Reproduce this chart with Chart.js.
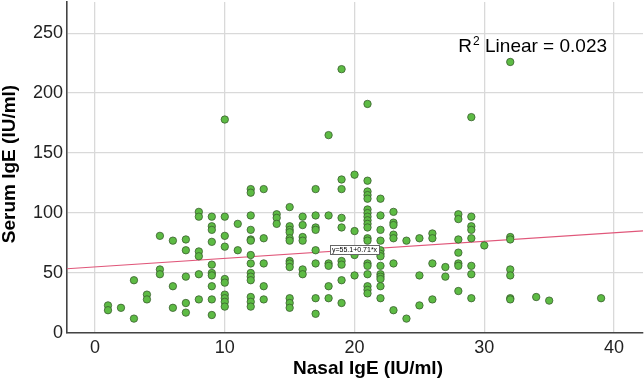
<!DOCTYPE html>
<html lang="en">
<head>
<meta charset="UTF-8">
<title>Nasal IgE vs Serum IgE</title>
<style>
  html, body { margin: 0; padding: 0; background: #fff; }
  #chart { display: block; }
</style>
</head>
<body>
<canvas id="chart" width="644" height="384"></canvas>
<script src="https://cdn.jsdelivr.net/npm/chart.js"></script>
<script>
// one entry per subject, nasalIgE[i] pairs with serumIgE[i]
const nasalIgE = [
  1, 1,
  2,
  3, 3,
  4, 4,
  5, 5, 5,
  6, 6, 6,
  7, 7, 7, 7, 7,
  8, 8, 8, 8, 8, 8,
  9, 9, 9, 9, 9, 9, 9, 9, 9, 9,
  10, 10, 10, 10, 10, 10, 10, 10, 10, 10,
  11, 11,
  12, 12, 12, 12, 12, 12, 12, 12, 12, 12, 12, 12, 12, 12,
  13, 13, 13, 13, 13,
  14, 14, 14,
  15, 15, 15, 15, 15, 15, 15, 15, 15, 15, 15, 15,
  16, 16, 16, 16, 16, 16,
  17, 17, 17, 17, 17, 17, 17, 17,
  18, 18, 18, 18, 18, 18,
  19, 19, 19, 19, 19, 19, 19, 19, 19, 19,
  20, 20, 20, 20,
  21, 21, 21, 21, 21, 21, 21, 21, 21, 21, 21, 21, 21, 21, 21, 21, 21, 21, 21,
  22, 22, 22, 22, 22, 22, 22, 22, 22, 22, 22, 22, 22,
  23, 23, 23, 23, 23, 23, 23,
  24, 24,
  25, 25, 25,
  26, 26, 26, 26,
  27, 27,
  28, 28, 28, 28, 28, 28, 28,
  29, 29, 29, 29, 29, 29, 29, 29,
  30,
  32, 32, 32, 32, 32, 32, 32,
  34,
  35,
  39
];
const serumIgE = [
  23, 19,
  21,
  44, 12,
  32, 28,
  81, 53, 49,
  77, 39, 21,
  78, 69, 47, 25, 17,
  101, 97, 68, 64, 49, 28,
  97, 89, 86, 76, 57, 50, 48, 39, 28, 15,
  178, 97, 81, 72, 45, 42, 32, 29, 26, 22,
  91, 69,
  120, 117, 98, 86, 78, 77, 65, 58, 50, 47, 44, 30, 26, 22,
  120, 79, 58, 39, 28,
  99, 96, 91,
  105, 89, 86, 84, 79, 77, 60, 58, 55, 29, 25, 21,
  97, 90, 80, 77, 53, 49,
  120, 98, 88, 86, 69, 58, 29, 16,
  165, 98, 58, 56, 39, 29,
  220, 128, 120, 96, 88, 69, 60, 57, 44, 25,
  132, 85, 65, 48,
  191, 127, 118, 115, 112, 103, 100, 97, 94, 91, 88, 79, 77, 58, 56, 49, 39, 36, 33,
  112, 98, 86, 77, 69, 66, 64, 56, 49, 47, 45, 39, 29,
  101, 92, 90, 82, 79, 58, 19,
  77, 12,
  79, 48, 23,
  83, 79, 58, 28,
  55, 47,
  99, 95, 78, 67, 58, 56, 35,
  180, 97, 89, 86, 79, 56, 49, 29,
  73,
  226, 80, 78, 53, 48, 29, 28,
  30,
  27,
  29
];

const xTicks = [0, 10, 20, 30, 40];
const yTicks = [0, 50, 100, 150, 200, 250];

// linear fit shown on the chart
const fitIntercept = 55.1;
const fitSlope = 0.71;
const rSquared = '0.023';

const xMin = -2.16, xMax = 42.23;
const yMin = 0, yMax = 276;

const fontFamily = '"Liberation Sans", Arial, sans-serif';
const fitY = x => fitIntercept + fitSlope * x;

const scatterPoints = nasalIgE.map((v, i) => ({ x: v, y: serumIgE[i] }));
const fitLine = [{ x: xMin, y: fitY(xMin) }, { x: xMax, y: fitY(xMax) }];

// no extra room for edge tick labels, the plot fills the canvas
function noPadding(s) {
  s.paddingTop = 0;
  s.paddingBottom = 0;
  s.paddingLeft = 0;
  s.paddingRight = 0;
}

// axis titles, R2 text and the equation box
const extraText = {
  id: 'extraText',
  afterDraw(chart) {
    const { ctx } = chart;
    const xs = chart.scales.x, ys = chart.scales.y;
    ctx.save();
    ctx.fillStyle = '#000';

    // x title
    ctx.font = 'bold 19px ' + fontFamily;
    ctx.textAlign = 'center';
    ctx.textBaseline = 'alphabetic';
    ctx.fillText('Nasal IgE (IU/ml)', 368, 374);

    // y title
    ctx.save();
    ctx.translate(15, 164);
    ctx.rotate(-Math.PI / 2);
    ctx.fillText('Serum IgE (IU/ml)', 0, 0);
    ctx.restore();

    // R2 Linear
    ctx.textAlign = 'left';
    let px = xs.getPixelForValue(28);
    const py = ys.getPixelForValue(234);
    ctx.font = '19px ' + fontFamily;
    ctx.fillText('R', px, py);
    px += ctx.measureText('R').width + 1;
    ctx.font = '12px ' + fontFamily;
    ctx.fillText('2', px, py - 7);
    px += ctx.measureText('2').width;
    ctx.font = '19px ' + fontFamily;
    ctx.fillText(' Linear = ' + rSquared, px, py);

    // equation label on the fit line
    const label = 'y=55.1+0.71*x';
    const cx = xs.getPixelForValue(20);
    const cy = ys.getPixelForValue(fitY(20));
    ctx.font = '7px ' + fontFamily;
    const w = ctx.measureText(label).width + 4;
    const h = 9;
    ctx.fillStyle = '#fff';
    ctx.fillRect(cx - w / 2, cy - h / 2, w, h);
    ctx.strokeStyle = '#666';
    ctx.lineWidth = 1;
    ctx.strokeRect(Math.round(cx - w / 2) + 0.5, Math.round(cy - h / 2) + 0.5, Math.round(w), h);
    ctx.fillStyle = '#000';
    ctx.textAlign = 'center';
    ctx.textBaseline = 'middle';
    ctx.fillText(label, cx, cy + 0.5);

    ctx.restore();
  }
};

new Chart(document.getElementById('chart').getContext('2d'), {
  type: 'scatter',
  data: {
    datasets: [
      {
        label: 'Serum IgE',
        data: scatterPoints,
        backgroundColor: '#5dbb44',
        borderColor: '#3a5e2e',
        borderWidth: 0.8,
        pointRadius: 3.7,
        order: 1
      },
      {
        type: 'line',
        label: 'Linear fit',
        data: fitLine,
        borderColor: '#e0577a',
        borderWidth: 1.2,
        pointRadius: 0,
        fill: false,
        order: 2
      }
    ]
  },
  options: {
    responsive: false,
    animation: false,
    devicePixelRatio: 1,
    layout: { autoPadding: false, padding: { top: 2, right: 1, left: 0, bottom: 0 } },
    plugins: {
      legend: { display: false },
      tooltip: { enabled: false }
    },
    scales: {
      x: {
        type: 'linear',
        min: xMin,
        max: xMax,
        afterBuildTicks: s => { s.ticks = xTicks.map(v => ({ value: v })); },
        afterFit: s => { s.height = 51; noPadding(s); },
        grid: { color: '#d9d9d9', lineWidth: 1.3, drawTicks: false },
        border: { color: '#444', width: 1.6 },
        ticks: { color: '#222', font: { family: fontFamily, size: 18 }, padding: 4, maxRotation: 0 }
      },
      y: {
        type: 'linear',
        min: yMin,
        max: yMax,
        afterBuildTicks: s => { s.ticks = yTicks.map(v => ({ value: v })); },
        afterFit: s => { s.width = 67; noPadding(s); },
        grid: { color: '#d9d9d9', lineWidth: 1.3, drawTicks: false },
        border: { color: '#444', width: 1.6 },
        ticks: { color: '#222', font: { family: fontFamily, size: 18 }, padding: 4 }
      }
    }
  },
  plugins: [extraText]
});
</script>
</body>
</html>
